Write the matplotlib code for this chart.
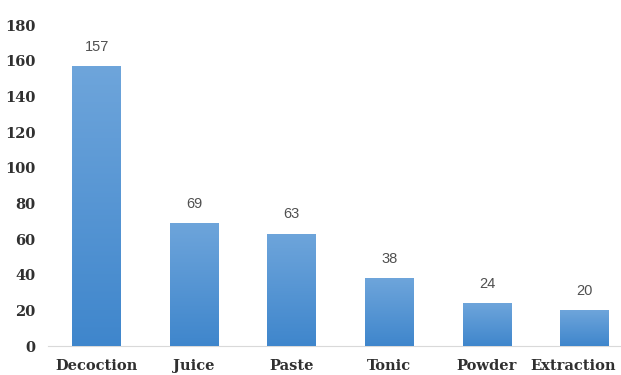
import numpy as np
import matplotlib.pyplot as plt
from matplotlib.colors import LinearSegmentedColormap
from matplotlib.transforms import ScaledTranslation

categories = ['Decoction', 'Juice', 'Paste', 'Tonic', 'Powder', 'Extraction']
counts = [157, 69, 63, 38, 24, 20]
y_ticks = [0, 20, 40, 60, 80, 100, 120, 140, 160, 180]

fig = plt.figure(figsize=(6.21, 3.75), dpi=100)
# the right edge of the original is cropped, so the axes run past the figure
ax = fig.add_axes([0.077, 0.077, 0.943, 0.856])

x = np.arange(len(categories))
bars = ax.bar(x, counts, width=0.5, color='#5b9bd5', zorder=2)

# vertical gradient like the office chart fill
cmap = LinearSegmentedColormap.from_list('blu', ['#3f86cc', '#6ea5db'])
grad = np.linspace(0, 1, 256).reshape(-1, 1)
for b in bars:
    x0, y0 = b.get_x(), b.get_y()
    w, h = b.get_width(), b.get_height()
    im = ax.imshow(grad, cmap=cmap, origin='lower', aspect='auto',
                   extent=[x0, x0 + w, y0, y0 + h], zorder=3)
    im.set_clip_path(b)

for xi, v in zip(x, counts):
    ax.text(xi, v + 7, str(v), ha='center', va='bottom', fontsize=10.5,
            color='#505050', family='Liberation Sans')

ax.set_xlim(-0.5, 5.5)
ax.set_ylim(0, 180)
ax.set_yticks(y_ticks)
ax.set_xticks(x)
ax.set_xticklabels(categories)

for lab in ax.get_xticklabels() + ax.get_yticklabels():
    lab.set_family('DejaVu Serif')
    lab.set_fontweight('bold')
    lab.set_color('#303030')
    lab.set_fontsize(10.5)

ax.tick_params(length=0)
ax.tick_params(axis='x', pad=9)
ax.tick_params(axis='y', pad=9)
for s in ['top', 'right', 'left']:
    ax.spines[s].set_visible(False)
ax.spines['bottom'].set_color('#d9d9d9')

# last label would run off the right edge; nudge it left so it stays whole
last = ax.get_xticklabels()[-1]
last.set_transform(last.get_transform() + ScaledTranslation(-0.12, 0, fig.dpi_scale_trans))

fig.savefig('out.png', dpi=100)
